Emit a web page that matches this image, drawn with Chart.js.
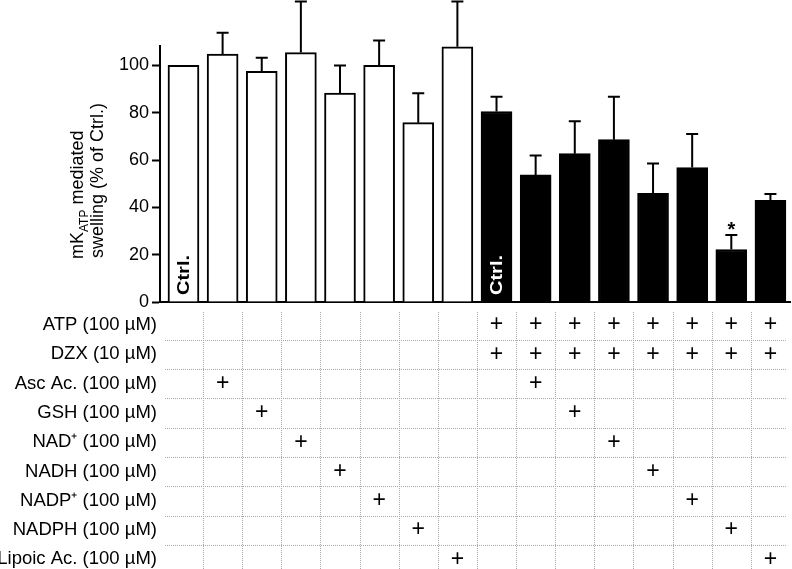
<!DOCTYPE html>
<html>
<head>
<meta charset="utf-8">
<script src="https://cdn.jsdelivr.net/npm/chart.js@4/dist/chart.umd.min.js"></script>
<style>
  html, body { margin: 0; padding: 0; background: #fff; }
  #wrap { width: 792px; height: 569px; }
</style>
</head>
<body>
<div id="wrap"><canvas id="swellChart" width="792" height="569"></canvas></div>
<script>
const FONT = "'Liberation Sans', Arial, Helvetica, sans-serif";

// 16 conditions: 8 without ATP/DZX (white), 8 with ATP + DZX (black)
const conditions = ["Ctrl.", "Asc Ac.", "GSH", "NAD+", "NADH", "NADP+", "NADPH", "Lipoic Ac.",
                    "Ctrl.", "Asc Ac.", "GSH", "NAD+", "NADH", "NADP+", "NADPH", "Lipoic Ac."];
const swelling = [100, 104.8, 97.5, 105.4, 88.3, 100, 75.8, 107.9,
                  80.5, 53.7, 62.7, 68.6, 45.9, 56.8, 22.2, 43.0];
const errorTop = [null, 113.8, 103.2, 127, 100, 110.5, 88.2, 127,
                  86.8, 61.9, 76.4, 86.8, 58.5, 71.0, 28.3, 45.6];
const withAtpDzx = [0, 0, 0, 0, 0, 0, 0, 0, 1, 1, 1, 1, 1, 1, 1, 1];
const ctrlBars = [0, 8];
const significant = [14];
const yTicks = [0, 20, 40, 60, 80, 100];

// treatment table under the bars: row label + columns that got a "+"
const treatments = ["ATP (100 µM)", "DZX (10 µM)", "Asc Ac. (100 µM)", "GSH (100 µM)",
                    "NAD⁺ (100 µM)", "NADH (100 µM)", "NADP⁺ (100 µM)", "NADPH (100 µM)",
                    "Lipoic Ac. (100 µM)"];
const treatmentCols = [
    [8, 9, 10, 11, 12, 13, 14, 15],
    [8, 9, 10, 11, 12, 13, 14, 15],
    [1, 9],
    [2, 10],
    [3, 11],
    [4, 12],
    [5, 13],
    [6, 14],
    [7, 15]
];

const errorBars = {
    id: "errorBars",
    afterDatasetsDraw(chart) {
        const ctx = chart.ctx;
        const y = chart.scales.y;
        const meta = chart.getDatasetMeta(0);
        ctx.save();
        ctx.strokeStyle = "#000";
        ctx.lineWidth = 2;
        meta.data.forEach((bar, i) => {
            if (errorTop[i] === null) return;
            const top = y.getPixelForValue(errorTop[i]);
            ctx.beginPath();
            ctx.moveTo(bar.x, bar.y);
            ctx.lineTo(bar.x, top);
            ctx.moveTo(bar.x - 6, top);
            ctx.lineTo(bar.x + 6, top);
            ctx.stroke();
        });

        // "Ctrl." written up inside the control bars
        ctrlBars.forEach(i => {
            const bar = meta.data[i];
            ctx.save();
            ctx.translate(bar.x + 1, y.getPixelForValue(0) - 7);
            ctx.rotate(-Math.PI / 2);
            ctx.scale(1, 0.8);
            ctx.font = "bold 20px " + FONT;
            ctx.fillStyle = withAtpDzx[i] ? "#fff" : "#000";
            ctx.textAlign = "left";
            ctx.textBaseline = "middle";
            ctx.fillText("Ctrl.", 0, 0);
            ctx.restore();
        });

        significant.forEach(i => {
            const bar = meta.data[i];
            ctx.font = "bold 20px " + FONT;
            ctx.fillStyle = "#000";
            ctx.textAlign = "center";
            ctx.textBaseline = "alphabetic";
            ctx.fillText("*", bar.x, y.getPixelForValue(errorTop[i]) + 1);
        });
        ctx.restore();
    }
};

const treatmentTable = {
    id: "treatmentTable",
    afterDraw(chart) {
        const ctx = chart.ctx;
        const x = chart.scales.x;
        const rowTop = 312;
        const rowH = 29.3;
        const left = 165;
        const right = 787;
        ctx.save();

        ctx.strokeStyle = "#a8a8a8";
        ctx.lineWidth = 1;
        ctx.setLineDash([1, 1]);
        for (let r = 1; r < treatments.length; r++) {
            const yy = Math.round(rowTop + r * rowH - 1.5) + 0.5;
            ctx.beginPath();
            ctx.moveTo(left, yy);
            ctx.lineTo(right, yy);
            ctx.stroke();
        }
        for (let c = 0; c < conditions.length - 1; c++) {
            const xx = Math.round(x.getPixelForValue(c + 0.5)) + 0.5;
            ctx.beginPath();
            ctx.moveTo(xx, rowTop);
            ctx.lineTo(xx, 569);
            ctx.stroke();
        }
        ctx.setLineDash([]);

        ctx.fillStyle = "#000";
        ctx.textBaseline = "middle";
        treatments.forEach((label, r) => {
            const yc = rowTop + 13 + r * rowH;
            ctx.font = "18.5px " + FONT;
            ctx.textAlign = "right";
            ctx.fillText(label, 157, yc);
            ctx.font = "23px " + FONT;
            ctx.textAlign = "center";
            treatmentCols[r].forEach(c => {
                ctx.fillText("+", x.getPixelForValue(c), yc);
            });
        });

        // y axis title, two lines, with ATP as subscript
        ctx.save();
        ctx.translate(0, 259);
        ctx.rotate(-Math.PI / 2);
        ctx.textAlign = "left";
        ctx.textBaseline = "alphabetic";
        ctx.font = "18px " + FONT;
        let w = 0;
        ctx.fillText("mK", w, 83);
        w += ctx.measureText("mK").width;
        ctx.font = "12px " + FONT;
        ctx.fillText("ATP", w, 88);
        w += ctx.measureText("ATP").width;
        ctx.font = "18px " + FONT;
        ctx.fillText(" mediated", w, 83);
        ctx.fillText("swelling (% of Ctrl.)", 1, 103);
        ctx.restore();

        ctx.restore();
    }
};

const ctx = document.getElementById("swellChart");
new Chart(ctx, {
    type: "bar",
    data: {
        labels: conditions,
        datasets: [{
            data: swelling.map((v, i) => ({ x: i, y: v })),
            backgroundColor: withAtpDzx.map(f => f ? "#000" : "#fff"),
            borderColor: "#000",
            borderWidth: 2,
            barThickness: 31
        }]
    },
    options: {
        responsive: false,
        animation: false,
        layout: { padding: { top: 46, right: 2, left: 0, bottom: 0 } },
        plugins: {
            legend: { display: false },
            tooltip: { enabled: false }
        },
        scales: {
            x: {
                type: "linear",
                offset: false,
                min: -0.6,
                max: 15.5,
                ticks: { display: false },
                grid: { display: false },
                border: { color: "#000", width: 2 },
                afterFit: s => { s.height = 267; s.paddingLeft = 0; s.paddingRight = 0; }
            },
            y: {
                min: 0,
                max: 108.2,
                afterBuildTicks: s => { s.ticks = yTicks.map(v => ({ value: v })); },
                ticks: {
                    color: "#000",
                    padding: 3,
                    font: { size: 18, family: FONT }
                },
                grid: {
                    drawOnChartArea: false,
                    tickLength: 8,
                    tickWidth: 2,
                    tickColor: "#000"
                },
                border: { color: "#000", width: 2 },
                afterFit: s => { s.width = 160; s.paddingTop = 0; s.paddingBottom = 0; }
            }
        }
    },
    plugins: [errorBars, treatmentTable]
});
</script>
</body>
</html>
